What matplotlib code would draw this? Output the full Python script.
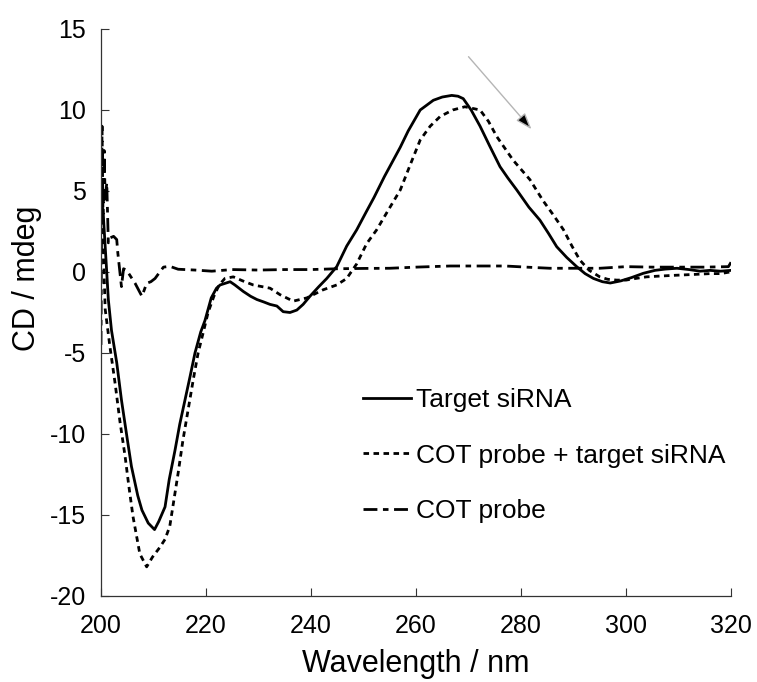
import matplotlib
matplotlib.use("Agg")
import matplotlib.pyplot as plt

# CD spectra (wavelength in nm, CD in mdeg)
target_wl = [200, 200.5, 201, 201.4, 202, 203, 203.9, 205, 205.8, 207, 207.8, 209, 210.2,
             211, 212.2, 213, 214.1, 215, 216, 217, 217.9, 219, 219.8, 221, 222, 222.7,
             224.6, 225.5, 227.1, 228.5, 229.7, 231, 232.2, 233.5, 234.7, 236, 237.3, 238.5,
             239.8, 241.5, 243, 244.9, 246.8, 248.7, 250.5, 252, 254, 256, 257, 258.5, 260.8,
             263.3, 265, 266.8, 268, 269, 270.5, 272.2, 274, 276, 277.5, 279.2, 281.5, 283.6,
             285.2, 286.8, 288.7, 290.6, 292.2, 293.8, 295.5, 297, 299, 301, 303.3, 305.5,
             307.5, 309.7, 312, 314.1, 316, 318, 320]
target_cd = [5.0, 3.2, 0.5, -1.7, -3.6, -5.6, -7.9, -10.3, -12.0, -13.8, -14.7, -15.5, -15.9,
             -15.4, -14.5, -12.8, -11.0, -9.4, -7.9, -6.4, -5.0, -3.7, -3.0, -1.6, -1.0, -0.8,
             -0.6, -0.8, -1.2, -1.5, -1.7, -1.85, -2.0, -2.1, -2.45, -2.5, -2.35, -2.0,
             -1.5, -0.9, -0.4, 0.33, 1.6, 2.6, 3.7, 4.6, 5.9, 7.1, 7.7, 8.7, 10.0,
             10.6, 10.8, 10.9, 10.85, 10.7, 10.0, 9.0, 7.8, 6.5, 5.8, 5.06, 4.0, 3.2,
             2.4, 1.56, 0.9, 0.33, -0.1, -0.4, -0.6, -0.68, -0.55, -0.35, -0.08, 0.1,
             0.18, 0.23, 0.15, 0.05, 0.1, 0.05, 0.1]

complex_wl = [200, 200.3, 200.8, 201.7, 202.7, 203.6, 204.6, 205.3, 206.1, 207.4, 208.7, 209.8,
              211.2, 212.2, 213.1, 214.7, 215.6, 216.6, 217.6, 218.5, 219.5, 220.4, 221.5,
              222.5, 223.6, 225.2, 227, 229, 232.2, 234.1, 236.6, 239.2, 242.3, 244.9, 246.8,
              248.7, 250.6, 252.5, 254.5, 257, 259, 260.8, 262.7, 264.6, 267, 269.3, 272.2,
              273.8, 275.4, 278.5, 281.7, 284.2, 286.2, 288.1, 289.7, 291.2, 293, 295, 296.5,
              298.2, 300, 301.8, 303.9, 306.5, 309.6, 313, 316, 318, 319.8]
complex_cd = [7.0, 3.0, -2.3, -4.6, -6.9, -9.2, -11.4, -13.2, -15.1, -17.4, -18.2, -17.6,
              -17.0, -16.5, -15.7, -12.4, -10.4, -8.5, -6.6, -5.0, -3.7, -2.5, -1.5,
              -0.8, -0.4, -0.3, -0.55, -0.8, -1.0, -1.4, -1.8, -1.6, -1.1, -0.8, -0.4,
              0.5, 1.75, 2.6, 3.7, 5.06, 6.7, 8.15, 9.0, 9.6, 10.0, 10.2, 10.0,
              9.3, 8.35, 6.9, 5.7, 4.4, 3.5, 2.6, 1.6, 0.74, 0.1, -0.3, -0.45,
              -0.5, -0.5, -0.4, -0.3, -0.25, -0.2, -0.15, -0.1, -0.1, 0.0]

probe_wl = [200.0, 200.2, 200.4, 200.6, 200.8, 201.1, 201.4, 201.7, 202.4, 203.0, 203.2, 203.9,
            204.3, 204.9, 205.7, 206.5, 207.8, 208.7, 209.5, 210.3, 211.2, 211.9, 213.1, 214.7,
            217.9, 221.1, 225, 230, 235, 240, 245, 250, 255, 260, 266.5, 272, 277, 281,
            285.5, 290, 295, 300, 305, 310, 315, 319.5, 320]
probe_cd = [-4.5, 9.0, 3.0, 7.5, 4.5, 5.5, 1.8, 2.1, 2.2, 2.0, 1.2, -0.9,
            0.2, 0.1, -0.3, -0.7, -1.5, -0.7, -0.6, -0.4, 0.0, 0.3, 0.35, 0.17,
            0.12, 0.05, 0.15, 0.12, 0.15, 0.15, 0.2, 0.22, 0.23, 0.3, 0.37, 0.37, 0.37, 0.3,
            0.23, 0.23, 0.23, 0.33, 0.3, 0.3, 0.3, 0.33, 0.6]

labels = ["Target siRNA", "COT probe + target siRNA", "COT probe"]
x_ticks = [200, 220, 240, 260, 280, 300, 320]
y_ticks = [-20, -15, -10, -5, 0, 5, 10, 15]

plt.rcParams["font.family"] = ["Liberation Sans", "DejaVu Sans"]
plt.rcParams["axes.unicode_minus"] = False

fig = plt.figure(figsize=(7.57, 6.82), dpi=100)
ax = fig.add_axes([0.1334, 0.1261, 0.8323, 0.8314])

lw = 2.0
ax.plot(target_wl, target_cd, color="black", lw=lw, label=labels[0])
ax.plot(complex_wl, complex_cd, color="black", lw=lw, dashes=(2, 1.6), label=labels[1])
ax.plot(probe_wl, probe_cd, color="black", lw=lw, dashes=(5, 2, 2, 2), label=labels[2])

ax.set_xlim(200, 320)
ax.set_ylim(-20, 15)
ax.set_xticks(x_ticks)
ax.set_yticks(y_ticks)

for side in ["top", "right"]:
    ax.spines[side].set_visible(False)
for side in ["left", "bottom"]:
    ax.spines[side].set_linewidth(0.9)
    ax.spines[side].set_color("#333333")

ax.tick_params(axis="both", direction="in", length=6, width=0.8, color="#333333",
               labelsize=18)
ax.tick_params(axis="x", pad=13)
ax.tick_params(axis="y", pad=11)

ax.set_xlabel("Wavelength / nm", fontsize=22, labelpad=8)
ax.set_ylabel("CD / mdeg", fontsize=22)
ax.yaxis.set_label_coords(-0.094, 0.56)

# arrow showing the shift of the positive band
ax.annotate("", xy=(282.0, 8.81), xytext=(270.0, 13.29),
            arrowprops=dict(arrowstyle="-|>,head_length=1.0,head_width=0.35",
                            fc="black", ec="#b5b5b5", lw=1.0, shrinkA=0, shrinkB=0))

leg = ax.legend(loc="upper left", bbox_to_anchor=(363 / 757, 1 - 388 / 682),
                bbox_transform=fig.transFigure, frameon=False, fontsize=19,
                handlelength=1.8, handletextpad=0.2, labelspacing=1.2,
                borderaxespad=0, borderpad=0)

fig.savefig("out.png", dpi=100)
